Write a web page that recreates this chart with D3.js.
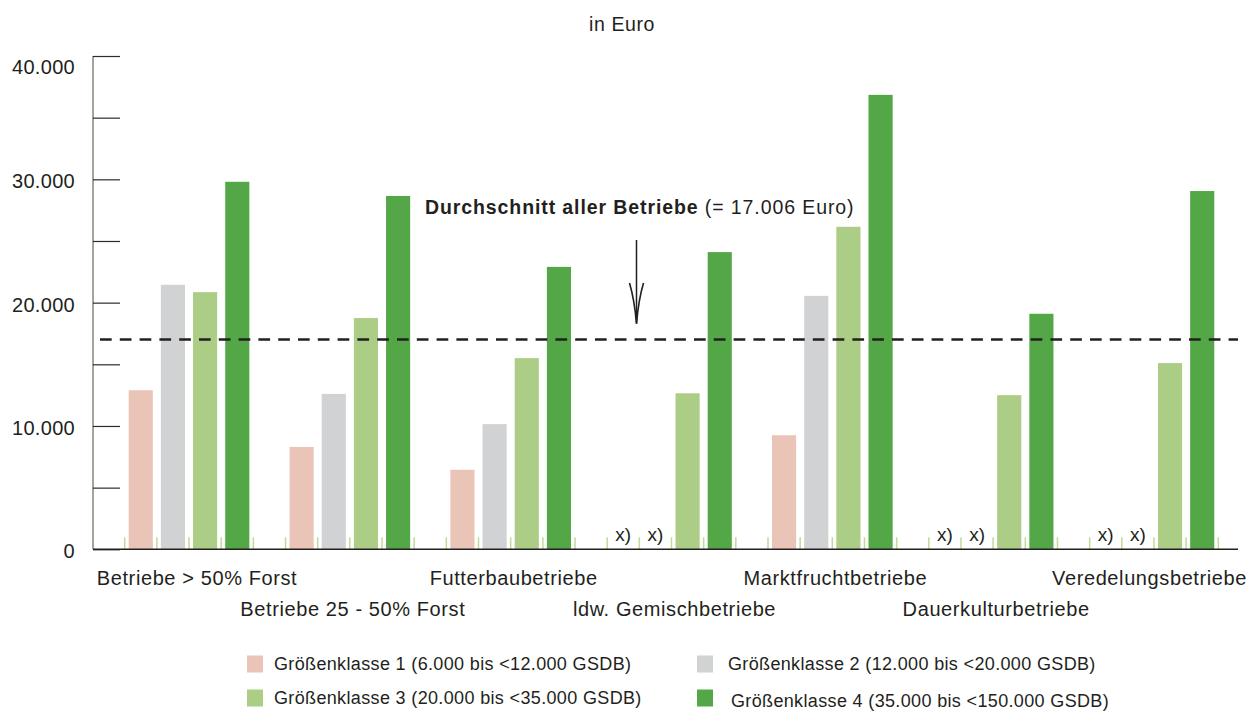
<!DOCTYPE html>
<html><head><meta charset="utf-8">
<script src="https://cdn.jsdelivr.net/npm/d3@7"></script>
<style>
body{margin:0;background:#fff}
text{font-family:"Liberation Sans",Arial,Helvetica,sans-serif;fill:#231f20}
</style>
</head><body>
<svg id="chart" width="1255" height="711"></svg>
<script>
// ---- data ----
const categories = ["Betriebe > 50% Forst","Betriebe 25 - 50% Forst","Futterbaubetriebe","ldw. Gemischbetriebe","Marktfruchtbetriebe","Dauerkulturbetriebe","Veredelungsbetriebe"];
const seriesNames = ["Größenklasse 1 (6.000 bis <12.000 GSDB)","Größenklasse 2 (12.000 bis <20.000 GSDB)","Größenklasse 3 (20.000 bis <35.000 GSDB)","Größenklasse 4 (35.000 bis <150.000 GSDB)"];
const klasse1 = [12900, 8300, 6450, null, 9250, null, null];
const klasse2 = [21450, 12600, 10150, null, 20550, null, null];
const klasse3 = [20850, 18750, 15500, 12650, 26150, 12500, 15100];
const klasse4 = [29800, 28650, 22900, 24100, 36850, 19100, 29050];
const average = 17006;
const yTickValues = [0, 5000, 10000, 15000, 20000, 25000, 30000, 35000, 40000];
const yLabelValues = [0, 10000, 20000, 30000, 40000];
const yLabels = ["0", "10.000", "20.000", "30.000", "40.000"];
const missingLabel = "x)";
const unitLabel = "in Euro";
const avgLabelBold = "Durchschnitt aller Betriebe";
const avgLabelRegular = " (= 17.006 Euro)";

const colors = ["#ebc4b8", "#d1d2d4", "#abcd85", "#53a747"];
const series = [klasse1, klasse2, klasse3, klasse4];

// ---- layout ----
const svg = d3.select("#chart");
const axisX = 93, plotRight = 1238, yTop = 56, yBottom = 549.3;
const y = d3.scaleLinear().domain([0, 40000]).range([yBottom, yTop]);
const x0 = d3.scaleBand().domain(d3.range(categories.length)).range([124.7, 1218.3]).paddingInner(0.2).paddingOuter(0);
const x1 = d3.scaleBand().domain(d3.range(series.length)).range([0, x0.bandwidth()]).paddingInner(0.25).paddingOuter(0.125);

// title
svg.append("text").attr("x", 622).attr("y", 24).attr("dy", "0.35em")
  .attr("text-anchor", "middle").style("font-size", "19.5px").style("letter-spacing", "0.6px")
  .text(unitLabel);

// y axis
const yAxis = d3.axisLeft(y).tickValues(yTickValues).tickSize(-27).tickFormat("");
const gy = svg.append("g").attr("transform", `translate(${axisX},0)`).call(yAxis);
gy.select(".domain").attr("stroke", "#6f7566").attr("stroke-width", 1.3).attr("d", `M0,${yTop}V${yBottom}`);
gy.selectAll(".tick line").attr("stroke", "#2b2b2b").attr("stroke-width", 1.2);

svg.append("g").selectAll("text").data(yLabelValues).join("text")
  .attr("x", 75).attr("y", d => Math.max(y(d) + 2, 67)).attr("dy", "0.35em")
  .attr("text-anchor", "end").style("font-size", "20px").style("letter-spacing", "0.3px")
  .text((d, i) => yLabels[i]);

// slot ticks (light green)
const slotStep = x1.step();
const slotTicks = [];
categories.forEach((c, g) => { for (let k = 0; k < 5; k++) slotTicks.push(x0(g) + k * slotStep); });
svg.append("g").selectAll("line").data(slotTicks).join("line")
  .attr("x1", d => d).attr("x2", d => d)
  .attr("y1", yBottom - 12).attr("y2", yBottom)
  .attr("stroke", "#bcdc9a").attr("stroke-width", 1.5);

// bars
const bars = [];
categories.forEach((c, g) => series.forEach((s, k) => bars.push({g, k, v: s[g]})));
svg.append("g").selectAll("rect").data(bars.filter(d => d.v != null)).join("rect")
  .attr("x", d => x0(d.g) + x1(d.k))
  .attr("width", x1.bandwidth())
  .attr("y", d => y(d.v))
  .attr("height", d => y(0) - y(d.v))
  .attr("fill", d => colors[d.k]);

// missing markers
svg.append("g").selectAll("text").data(bars.filter(d => d.v == null)).join("text")
  .attr("x", d => x0(d.g) + x1(d.k) + x1.bandwidth() / 2)
  .attr("y", 541)
  .attr("text-anchor", "middle").style("font-size", "19px")
  .text(missingLabel);

// baseline
svg.append("line").attr("x1", axisX).attr("x2", plotRight).attr("y1", yBottom).attr("y2", yBottom)
  .attr("stroke", "#231f20").attr("stroke-width", 1.6);

// average dashed line
svg.append("line").attr("x1", 100).attr("x2", plotRight).attr("y1", y(average)).attr("y2", y(average))
  .attr("stroke", "#231f20").attr("stroke-width", 2.6).attr("stroke-dasharray", "11.7,8.1");

// annotation
const ann = svg.append("text").attr("x", 425).attr("y", 207).attr("dy", "0.35em")
  .style("font-size", "19.5px");
ann.append("tspan").style("font-weight", "bold").style("letter-spacing", "0.9px").text(avgLabelBold);
ann.append("tspan").style("letter-spacing", "0.9px").text(avgLabelRegular);

// arrow
const ax = 636.5;
svg.append("line").attr("x1", ax).attr("x2", ax).attr("y1", 240).attr("y2", y(average) - 16)
  .attr("stroke", "#231f20").attr("stroke-width", 1.5);
svg.append("path")
  .attr("d", `M${ax - 7},${283} Q${ax - 2},${300} ${ax},${y(average) - 16} Q${ax + 2},${300} ${ax + 7},${283}`)
  .attr("fill", "none").attr("stroke", "#231f20").attr("stroke-width", 1.6);

// category labels
const labelG = svg.append("g");
labelG.selectAll("text").data(categories).join("text")
  .attr("x", (d, i) => x0(i) + x0.bandwidth() / 2 + (i === 0 ? 8 : 3))
  .attr("y", (d, i) => i % 2 === 0 ? 578 : 609).attr("dy", "0.35em")
  .attr("text-anchor", "middle").style("font-size", "20px").style("letter-spacing", "0.6px")
  .text(d => d)
  .each(function () {
    const b = this.getBBox();
    if (b.x + b.width > 1247) d3.select(this).attr("x", +d3.select(this).attr("x") - (b.x + b.width - 1247));
  });

// legend
const legendPos = [[247, 664], [697, 664], [247, 698], [697, 698]];
const lg = svg.append("g").selectAll("g").data(seriesNames).join("g")
  .attr("transform", (d, i) => `translate(${legendPos[i][0]},${legendPos[i][1]})`);
lg.append("rect").attr("x", 0).attr("y", -8.5).attr("width", 16).attr("height", 17)
  .attr("fill", (d, i) => colors[i]);
lg.append("text").attr("x", (d, i) => i === 3 ? 34 : (i === 1 ? 31 : 27)).attr("y", (d, i) => i === 3 ? 3 : 0).attr("dy", "0.35em")
  .style("font-size", "18px").style("letter-spacing", "0.35px")
  .text(d => d);
</script>
</body></html>
